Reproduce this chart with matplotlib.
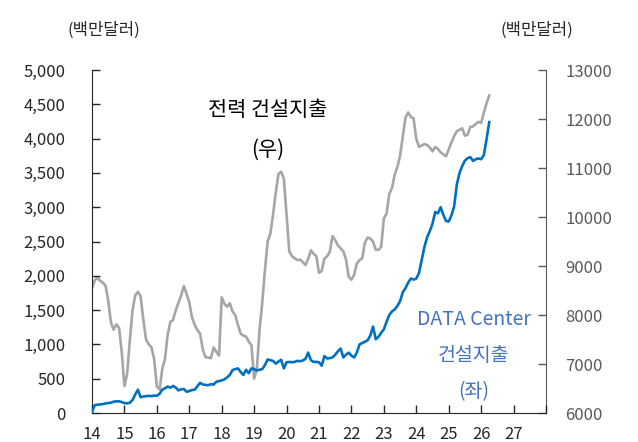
import numpy as np
import matplotlib
matplotlib.use("Agg")
import matplotlib.pyplot as plt

plt.rcParams['font.family'] = ['Noto Sans CJK KR', 'DejaVu Sans']

# monthly data from Jan 2014 (year axis shown as 14, 15, ...)
start_year = 14

# DATA Center construction spending (left axis, million USD)
datacenter = [
    15, 115, 120, 125, 130, 140, 145, 150, 165, 170, 170, 160,
    145, 140, 150, 190, 270, 340, 230, 240, 245, 250, 245, 255,
    250, 280, 340, 360, 385, 370, 395, 370, 330, 345, 350, 310,
    320, 335, 340, 390, 440, 415, 410, 405, 420, 415, 455, 465,
    475, 490, 520, 555, 625, 640, 650, 600, 555, 630, 580, 650,
    640, 620, 630, 640, 700, 780, 770, 760, 720, 750, 775, 650,
    740, 745, 740, 745, 760, 755, 765, 790, 880, 770, 745, 745,
    740, 690, 830, 795, 800, 810, 850, 900, 940, 810, 850, 880,
    835, 810, 880, 1000, 1020, 1040, 1060, 1130, 1260, 1075, 1110, 1170,
    1220, 1330, 1430, 1480, 1510, 1560, 1630, 1760, 1820, 1900, 1960, 1945,
    1960, 2040, 2230, 2420, 2560, 2650, 2760, 2930, 2910, 3000, 2890, 2800,
    2790, 2880, 3010, 3330, 3500, 3600, 3680, 3715, 3730, 3675, 3700, 3710,
    3700, 3760, 3990, 4240,
]

# Power construction spending (right axis, million USD)
power = [
    8550, 8700, 8770, 8700, 8660, 8600, 8300, 7850, 7700, 7810, 7740, 7250,
    6550, 6800, 7480, 8100, 8400, 8475, 8380, 7900, 7500, 7400, 7340, 7100,
    6540, 6480, 6900, 7100, 7600, 7860, 7900, 8100, 8250, 8400, 8590, 8430,
    8260, 7950, 7800, 7690, 7620, 7300, 7140, 7130, 7120, 7340, 7250, 7170,
    8360, 8230, 8170, 8240, 8070, 8000, 7800, 7620, 7580, 7560, 7460, 7380,
    6700, 6900, 7700, 8250, 8920, 9500, 9660, 10050, 10500, 10880, 10925, 10780,
    10050, 9300, 9200, 9160, 9120, 9130, 9080, 9020, 9150, 9320, 9250, 9200,
    8860, 8900, 9150, 9200, 9290, 9610, 9530, 9420, 9360, 9300, 9130, 8780,
    8720, 8820, 9050, 9120, 9160, 9480, 9580, 9560, 9500, 9330, 9330, 9390,
    9970, 10070, 10470, 10590, 10860, 11020, 11250, 11640, 12030, 12135, 12040, 12010,
    11600, 11430, 11460, 11490, 11470, 11420, 11340, 11430, 11390, 11320, 11280, 11240,
    11380, 11520, 11650, 11750, 11780, 11810, 11660, 11680, 11840, 11850, 11900, 11940,
    11920, 12130, 12320, 12480,
]

year_labels = ['14', '15', '16', '17', '18', '19', '20', '21', '22', '23', '24', '25', '26', '27']
left_ticks = [0, 500, 1000, 1500, 2000, 2500, 3000, 3500, 4000, 4500, 5000]
right_ticks = [6000, 7000, 8000, 9000, 10000, 11000, 12000, 13000]

x = start_year + np.arange(len(datacenter)) / 12

fig = plt.figure(figsize=(6.38, 4.42), dpi=100)
ax = fig.add_axes([0.1442, 0.0656, 0.7116, 0.776])
ax2 = ax.twinx()

ax2.plot(x, power, color='#A6A6A6', lw=1.9, zorder=2)
ax.plot(x, datacenter, color='#0070C0', lw=1.9, zorder=3)
ax.set_zorder(ax2.get_zorder() + 1)
ax.patch.set_visible(False)

ax.set_xlim(14, 28)
ax.set_ylim(0, 5000)
ax2.set_ylim(6000, 13000)

ax.set_xticks(range(14, 29))
ax.set_xticklabels(year_labels + [''])
ax.set_yticks(left_ticks)
ax.set_yticklabels([f'{v:,}' for v in left_ticks])
ax2.set_yticks(right_ticks)

ax.tick_params(axis='x', direction='in', length=6, width=1, pad=9, labelsize=12, colors='#262626')
ax.tick_params(axis='y', direction='in', length=6, width=1, pad=19, labelsize=12, colors='#262626')
ax2.tick_params(axis='y', direction='in', length=6, width=1, pad=14, labelsize=12,
                colors='#595959')

for a in (ax, ax2):
    a.spines['top'].set_visible(False)
ax.spines['left'].set_color('#262626')
ax.spines['bottom'].set_color('#262626')
ax.spines['right'].set_visible(False)
ax2.spines['left'].set_visible(False)
ax2.spines['bottom'].set_visible(False)
ax2.spines['right'].set_color('#595959')

# labels inside the plot
ax.text(0.388, 0.883, '전력 건설지출', transform=ax.transAxes, ha='center', va='center',
        fontsize=15, color='black')
ax.text(0.388, 0.767, '(우)', transform=ax.transAxes, ha='center', va='center',
        fontsize=15, color='black')
ax.text(0.841, 0.274, 'DATA Center', transform=ax.transAxes, ha='center', va='center',
        fontsize=14, color='#4472C4')
ax.text(0.841, 0.169, '건설지출', transform=ax.transAxes, ha='center', va='center',
        fontsize=14, color='#4472C4')
ax.text(0.841, 0.061, '(좌)', transform=ax.transAxes, ha='center', va='center',
        fontsize=14, color='#4472C4')

# unit labels
fig.text(0.163, 0.932, '(백만달러)', ha='center', va='center', fontsize=12, color='#262626')
fig.text(0.842, 0.932, '(백만달러)', ha='center', va='center', fontsize=12, color='#262626')

fig.savefig('out.png', dpi=100)
